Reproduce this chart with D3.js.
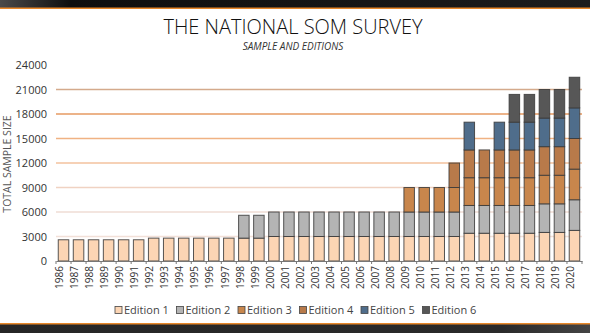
<!DOCTYPE html>
<html><head><meta charset="utf-8">
<script src="https://cdn.jsdelivr.net/npm/d3@7"></script>
<style>
html,body{margin:0;padding:0;background:#fff;}
svg{display:block;font-family:"Open Sans","Noto Sans",sans-serif;}
</style></head>
<body>
<svg id="c" width="590" height="333"></svg>
<script>
const years = ["1986","1987","1988","1989","1990","1991","1992","1993","1994","1995","1996","1997","1998","1999","2000","2001","2002","2003","2004","2005","2006","2007","2008","2009","2010","2011","2012","2013","2014","2015","2016","2017","2018","2019","2020"];
const edition1 = [2600,2600,2600,2600,2600,2600,2800,2800,2800,2800,2800,2800,2800,2800,3000,3000,3000,3000,3000,3000,3000,3000,3000,3000,3000,3000,3000,3400,3400,3400,3400,3400,3500,3500,3750];
const edition2 = [0,0,0,0,0,0,0,0,0,0,0,0,2800,2800,3000,3000,3000,3000,3000,3000,3000,3000,3000,3000,3000,3000,3000,3400,3400,3400,3400,3400,3500,3500,3750];
const edition3 = [0,0,0,0,0,0,0,0,0,0,0,0,0,0,0,0,0,0,0,0,0,0,0,3000,3000,3000,3000,3400,3400,3400,3400,3400,3500,3500,3750];
const edition4 = [0,0,0,0,0,0,0,0,0,0,0,0,0,0,0,0,0,0,0,0,0,0,0,0,0,0,3000,3400,3400,3400,3400,3400,3500,3500,3750];
const edition5 = [0,0,0,0,0,0,0,0,0,0,0,0,0,0,0,0,0,0,0,0,0,0,0,0,0,0,0,3400,0,3400,3400,3400,3500,3500,3750];
const edition6 = [0,0,0,0,0,0,0,0,0,0,0,0,0,0,0,0,0,0,0,0,0,0,0,0,0,0,0,0,0,0,3400,3400,3500,3500,3750];
const seriesNames = ["Edition 1","Edition 2","Edition 3","Edition 4","Edition 5","Edition 6"];
const yTicks = [0,3000,6000,9000,12000,15000,18000,21000,24000];

const seriesValues = [edition1,edition2,edition3,edition4,edition5,edition6];
const colors = ["#fcd5b4","#b4b4b4","#c8864c","#b87a4a","#4f6d8b","#575757"];
const gridColors = ["#f3e2da","#f2e0d8","#efdcd4","#f0d2c2","#f3c29e","#f0b283","#e69a62","#d4aa8c"];

const svg = d3.select("#c");
const W = 590, H = 333;

// header / footer bands
const defs = svg.append("defs");
const gTop = defs.append("linearGradient").attr("id","gTop").attr("x1","0").attr("x2","1");
gTop.append("stop").attr("offset","0").attr("stop-color","#4a4a4a");
gTop.append("stop").attr("offset","0.12").attr("stop-color","#0e0e0e");
gTop.append("stop").attr("offset","1").attr("stop-color","#1c1c1c");
const gBot = defs.append("linearGradient").attr("id","gBot").attr("x1","0").attr("x2","1");
gBot.append("stop").attr("offset","0").attr("stop-color","#262626");
gBot.append("stop").attr("offset","0.85").attr("stop-color","#2a2a2a");
gBot.append("stop").attr("offset","1").attr("stop-color","#444");
svg.append("rect").attr("x",0).attr("y",0).attr("width",W).attr("height",8).attr("fill","url(#gTop)");
svg.append("rect").attr("x",0).attr("y",7.5).attr("width",W).attr("height",1.5).attr("fill","#e8882a");
svg.append("rect").attr("x",0).attr("y",324).attr("width",W).attr("height",9).attr("fill","url(#gBot)");
svg.append("rect").attr("x",0).attr("y",323).attr("width",W).attr("height",1.5).attr("fill","#e8882a");

// titles
svg.append("text").attr("x",293).attr("y",34).attr("text-anchor","middle")
  .attr("font-size",20).attr("font-weight",300).attr("fill","#111").text("THE NATIONAL SOM SURVEY");
svg.append("text").attr("x",293).attr("y",50).attr("text-anchor","middle")
  .attr("font-size",10).attr("font-style","italic").attr("fill","#333").text("SAMPLE AND EDITIONS");

const x0 = 56, x1 = 582, yTop = 65, yBot = 261;
const x = d3.scaleBand().domain(years).range([x0,x1]).paddingInner(0.3).paddingOuter(0.15);
const y = d3.scaleLinear().domain([0,24000]).range([yBot,yTop]);

// gridlines
svg.append("g").selectAll("line").data(yTicks.filter(d=>d>0)).join("line")
  .attr("x1",x0).attr("x2",x1).attr("y1",d=>y(d)).attr("y2",d=>y(d))
  .attr("stroke",(d,i)=>gridColors[i+1]).attr("stroke-width",1.3);

// y axis labels
const yAxis = d3.axisLeft(y).tickValues(yTicks).tickSize(0).tickPadding(9).tickFormat(d3.format("d"));
const ya = svg.append("g").attr("transform",`translate(${x0},0)`).call(yAxis);
ya.select(".domain").remove();
ya.selectAll("text").attr("font-size",11).attr("fill","#333").attr("font-family","'Open Sans','Noto Sans',sans-serif");

svg.append("text").attr("transform","translate(11,164) rotate(-90)").attr("text-anchor","middle")
  .attr("font-size",10.5).attr("fill","#555").text("TOTAL SAMPLE SIZE");

// stacked bars
const table = years.map((yr,i)=>{const o={year:yr}; seriesNames.forEach((s,j)=>o[s]=seriesValues[j][i]); return o;});
const stack = d3.stack().keys(seriesNames)(table);
svg.append("g").selectAll("g").data(stack).join("g").attr("fill",(d,i)=>colors[i])
  .selectAll("rect").data(d=>d.filter(p=>p[1]-p[0]>0)).join("rect")
  .attr("x",d=>x(d.data.year)).attr("width",x.bandwidth())
  .attr("y",d=>y(d[1])).attr("height",d=>y(d[0])-y(d[1]))
  .attr("stroke","#3a3a3a").attr("stroke-width",1).attr("stroke-opacity",0.85);

// x axis
const xAxis = d3.axisBottom(x).tickSize(0).tickPadding(6);
const xa = svg.append("g").attr("transform",`translate(0,${yBot})`).call(xAxis);
xa.select(".domain").attr("stroke","#777");
xa.selectAll("text").attr("font-size",10).attr("fill","#333")
  .attr("font-family","'Open Sans','Noto Sans',sans-serif")
  .attr("transform","rotate(-90)").attr("text-anchor","end")
  .attr("dx","-5").attr("dy","-0.3em").attr("y",0).attr("x",0).style("dominant-baseline","middle");
// between-band tick marks
const edges = years.map(d=>x(d)-x.step()*x.paddingInner()/2).concat([x1]);
edges[0] = x0;
svg.append("g").selectAll("line").data(edges).join("line")
  .attr("x1",d=>d).attr("x2",d=>d).attr("y1",yBot).attr("y2",yBot+3).attr("stroke","#777");

// legend
const lg = svg.append("g").selectAll("g").data(seriesNames).join("g")
  .attr("transform",(d,i)=>`translate(${115+i*61.5},310)`);
lg.append("rect").attr("x",0).attr("y",-3.5).attr("width",7).attr("height",7)
  .attr("fill",(d,i)=>colors[i]).attr("stroke","#444").attr("stroke-width",0.8);
lg.append("text").attr("x",9).attr("y",4).attr("font-size",11).attr("fill","#444").text(d=>d);
</script>
</body></html>
